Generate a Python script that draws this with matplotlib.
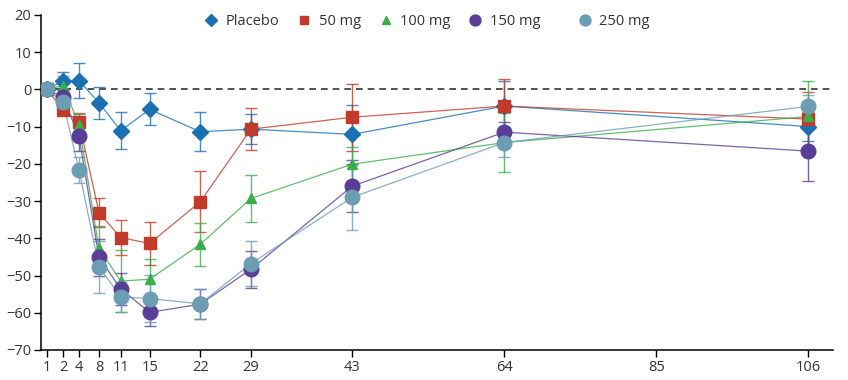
import numpy as np
from matplotlib import pyplot as plt

# ---------------------------------------------- #
# Data
# ---------------------------------------------- #
days = [1, 2, 4, 8, 11, 15, 22, 29, 43, 64, 106]
xtick_days = [1, 2, 4, 8, 11, 15, 22, 29, 43, 64, 85, 106]
yticks = [20, 10, 0, -10, -20, -30, -40, -50, -60, -70]

placebo = [0, 2.2, 2.3, -3.6, -11.1, -5.4, -11.4, -10.7, -12.1, -4.5, -10.0]
placebo_err = [0, 2.4, 4.7, 4.3, 5.0, 4.3, 5.3, 4.0, 8.0, 6.8, 4.0]

mg50 = [0, -5.5, -8.8, -33.1, -39.8, -41.4, -30.2, -10.7, -7.5, -4.5, -8.0]
mg50_err = [0, 1.5, 2.5, 3.8, 4.8, 5.7, 8.2, 5.6, 9.0, 7.3, 7.4]

mg100 = [0, 1.0, -9.5, -42.7, -51.5, -51.0, -41.6, -29.3, -20.1, -14.3, -7.3]
mg100_err = [0, 2.6, 3.0, 6.0, 8.3, 5.3, 5.8, 6.3, 4.5, 8.0, 9.6]

mg150 = [0, -2.2, -12.5, -45.1, -53.6, -59.9, -57.7, -48.3, -26.0, -11.5, -16.6]
mg150_err = [0, 2.5, 4.0, 5.0, 4.2, 3.6, 4.0, 5.0, 7.0, 2.8, 8.0]

mg250 = [0, -3.4, -21.6, -47.7, -55.7, -56.2, -57.6, -46.8, -29.0, -14.3, -4.6]
mg250_err = [0, 3.0, 3.5, 6.9, 4.0, 6.3, 4.0, 6.0, 8.8, 3.8, 3.0]

series = [
    ('Placebo', placebo, placebo_err, '#1b70b3', 'D', 8.5),
    ('50 mg', mg50, mg50_err, '#c23b2a', 's', 8.5),
    ('100 mg', mg100, mg100_err, '#3aae48', '^', 7),
    ('150 mg', mg150, mg150_err, '#5a3d96', 'o', 10.5),
    ('250 mg', mg250, mg250_err, '#6b9db3', 'o', 10.5),
]

# x axis of the original is stretched for the first days (1, 2, 4 evenly spaced),
# linear from day 8 onwards -> piecewise linear scale
day_knots = np.array([-10.0, 1, 2, 4, 8, 200])
pos_knots = np.array([-23.49, 0.82, 3.03, 5.24, 8, 200])

def fwd(x):
    return np.interp(x, day_knots, pos_knots)

def inv(x):
    return np.interp(x, pos_knots, day_knots)

# ---------------------------------------------- #
# Plot
# ---------------------------------------------- #
plt.rcParams['font.family'] = ['Open Sans', 'DejaVu Sans']
fig = plt.figure(figsize=(8.48, 3.8), dpi=100)
ax = fig.add_axes([0.0483, 0.079, 0.934, 0.882])
ax.set_xscale('function', functions=(fwd, inv))

ax.axhline(0, color='#333333', ls=(0, (4, 3)), lw=1.2, zorder=1)

handles = []
for label, vals, errs, col, mk, ms in series:
    ax.errorbar(days, vals, yerr=errs, color=col, ecolor=col, elinewidth=1.0,
                capsize=4.5, capthick=1.0, lw=0.9, alpha=0.8, zorder=2)
    h, = ax.plot(days, vals, ls='none', marker=mk, ms=ms, color=col,
                 mec=col, zorder=3, label=label)
    handles.append(h)

ax.set_xlim(inv(-0.01), 109.4)
ax.set_ylim(-70, 20)
ax.set_xticks(xtick_days)
ax.set_xticklabels([str(d) for d in xtick_days])
ax.xaxis.set_minor_locator(plt.NullLocator())
ax.set_yticks(yticks)
ax.tick_params(axis='both', direction='out', length=5, width=1,
               labelsize=10.5, labelcolor='#333333', pad=2)
for side in ['top', 'right']:
    ax.spines[side].set_visible(False)
for side in ['left', 'bottom']:
    ax.spines[side].set_linewidth(1.1)

# legend: first four entries, then 250 mg a bit further right as in the original
leg1 = ax.legend(handles=handles[:4], loc='upper left', bbox_to_anchor=(0.198, 1.019),
                 ncol=4, frameon=False, fontsize=10.5, handlelength=1.0,
                 handletextpad=0.5, columnspacing=1.2, markerscale=0.75,
                 borderaxespad=0, borderpad=0.4)
ax.add_artist(leg1)
leg2 = ax.legend(handles=handles[4:], loc='upper left', bbox_to_anchor=(0.67, 1.019),
                 frameon=False, fontsize=10.5, handlelength=1.0,
                 handletextpad=0.5, markerscale=0.75, borderaxespad=0, borderpad=0.4)
for leg in (leg1, leg2):
    for t in leg.get_texts():
        t.set_color('#333333')

plt.savefig('out.png', dpi=100)
